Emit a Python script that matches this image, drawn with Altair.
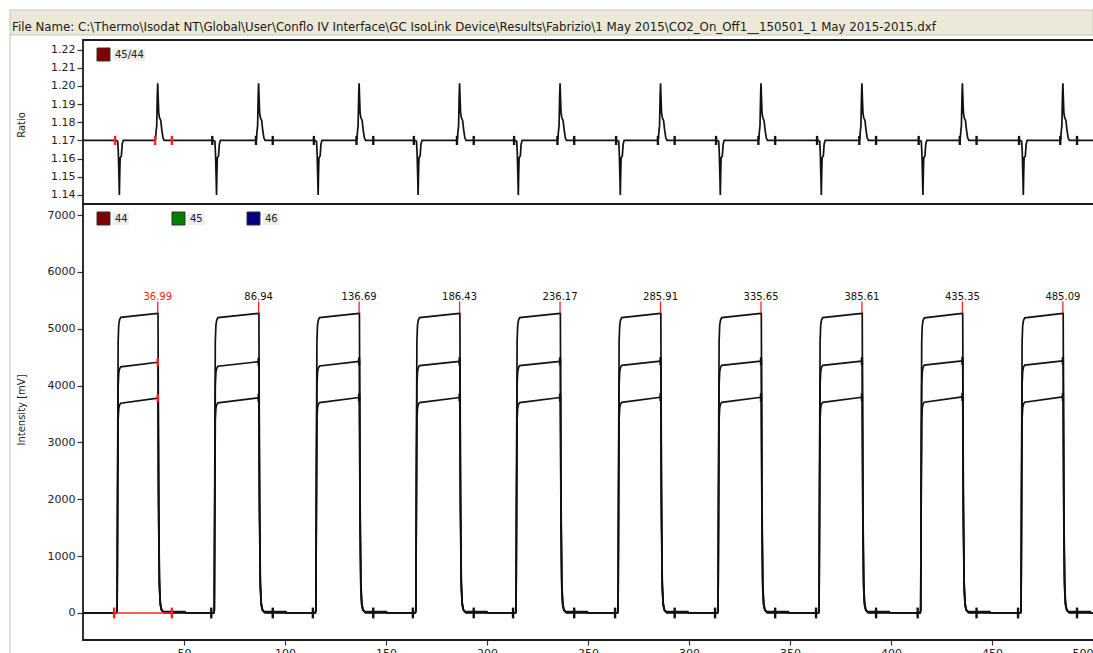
import altair as alt
import pandas as pd

# Peak apex retention times [s] and their printed labels
apex_times = [36.99, 86.94, 136.69, 186.43, 236.17, 285.91, 335.65, 385.61, 435.35, 485.09]
apex_labels = ["36.99", "86.94", "136.69", "186.43", "236.17", "285.91", "335.65", "385.61", "435.35", "485.09"]
# Foot of each rising edge [s]
onset_times = [16.9, 65.0, 115.3, 164.8, 214.4, 264.9, 314.4, 364.4, 414.7, 464.4]

# Plateau intensities [mV] at the start and at the apex of every peak
m44_start = [5200, 5195, 5195, 5195, 5195, 5195, 5195, 5195, 5190, 5190]
m44_end = [5270, 5270, 5270, 5270, 5270, 5270, 5270, 5270, 5270, 5270]
m45_start = [4330, 4340, 4345, 4350, 4350, 4355, 4355, 4355, 4360, 4360]
m45_end = [4410, 4420, 4425, 4425, 4425, 4430, 4430, 4430, 4434, 4434]
m46_start = [3690, 3695, 3700, 3700, 3700, 3705, 3705, 3705, 3708, 3708]
m46_end = [3780, 3785, 3790, 3790, 3790, 3795, 3795, 3795, 3800, 3800]

# Rising edge: time after onset [s] / fraction of plateau
rise_dt = [-0.3, 0.0, 0.3, 0.5, 0.8, 1.2, 1.8]
rise_frac = [0.0, 0.01, 0.60, 0.92, 0.975, 0.992, 1.0]
# Falling edge: time after apex [s] / fraction of plateau
fall_dt = [0.15, 0.45, 0.85, 1.3, 1.9, 2.8]
fall_frac = [1.0, 0.42, 0.11, 0.035, 0.012, 0.004]
# Small residue left on the baseline after each peak [mV]
tail_level = {"44": 0, "45": 12, "46": 24}

# 45/44 ratio trace: dip on the rising edge, spike on the falling edge
ratio_base = 1.17
dip_dt = [-0.5, 0.3, 0.6, 0.9, 1.1, 1.3, 1.5, 2.1, 2.5, 3.0]
dip_val = [1.170, 1.1695, 1.163, 1.150, 1.140, 1.152, 1.1605, 1.1615, 1.168, 1.170]
spike_dt = [-1.5, -1.1, -0.8, -0.5, -0.2, 0.0, 0.25, 0.5, 0.9, 1.5, 2.0, 2.6, 3.2]
spike_val = [1.170, 1.1705, 1.175, 1.178, 1.195, 1.2015, 1.193, 1.185, 1.1825, 1.181, 1.176, 1.1715, 1.170]

FILE_NAME = ("File Name: C:\\Thermo\\Isodat NT\\Global\\User\\Conflo IV Interface\\GC IsoLink Device"
             "\\Results\\Fabrizio\\1 May 2015\\CO2_On_Off1__150501_1 May 2015-2015.dxf")

FONT = "DejaVu Sans"
INK = "#111111"
RED = "#ff2020"

# ---------- build the tables ----------
rows = []
for tr, starts, ends in [("44", m44_start, m44_end), ("45", m45_start, m45_end), ("46", m46_start, m46_end)]:
    rows.append((tr, 0.0, 0.0))
    for i in range(len(apex_times)):
        o, a = onset_times[i], apex_times[i]
        for dt, f in zip(rise_dt, rise_frac):
            rows.append((tr, o + dt, f * starts[i]))
        rows.append((tr, a, ends[i]))
        for dt, f in zip(fall_dt, fall_frac):
            rows.append((tr, a + dt, f * ends[i]))
        rows.append((tr, a + 3.2, tail_level[tr]))
        rows.append((tr, a + 13.5, tail_level[tr]))
        rows.append((tr, a + 14.0, 0.0))
    rows.append((tr, 500.0, 0.0))
intensity = pd.DataFrame(rows, columns=["trace", "t", "v"])

rrows = [(0.0, ratio_base)]
for o, a in zip(onset_times, apex_times):
    rrows += [(o + dt, v) for dt, v in zip(dip_dt, dip_val)]
    rrows += [(a + dt, v) for dt, v in zip(spike_dt, spike_val)]
rrows.append((500.0, ratio_base))
ratio = pd.DataFrame(rrows, columns=["t", "v"])

def mark_color(i):
    return RED if i == 0 else INK

# peak start / end markers on the ratio trace
rmk = []
for i, (o, a) in enumerate(zip(onset_times, apex_times)):
    for t in (o - 1.0, a - 1.3, a + 7.0):
        rmk.append((t, ratio_base - 0.0025, ratio_base + 0.0025, mark_color(i)))
ratio_marks = pd.DataFrame(rmk, columns=["t", "lo", "hi", "c"])

# peak start / end markers on the baseline and apex markers on the plateaus
imk = []
for i, (o, a) in enumerate(zip(onset_times, apex_times)):
    c = mark_color(i)
    imk.append((o - 1.5, -95, 95, c))
    imk.append((a + 7.0, -95, 95, c))
    imk.append((a, m45_end[i] - 70, m45_end[i] + 70, c))
    imk.append((a, m46_end[i] - 70, m46_end[i] + 70, c))
int_marks = pd.DataFrame(imk, columns=["t", "lo", "hi", "c"])

apex_df = pd.DataFrame({
    "t": apex_times,
    "lab": apex_labels,
    "top": m44_end,
    "tick": [5480] * len(apex_times),
    "ly": [5560] * len(apex_times),
    "c": [mark_color(i) for i in range(len(apex_times))],
})

# integration background of the first peak
bg_df = pd.DataFrame({"t": [onset_times[0] - 1.5], "t2": [apex_times[0] + 7.0], "v": [0.0]})

# ---------- scales / axes ----------
W, H = 1010, 600
xs = alt.Scale(domain=[0, 500], nice=False, zero=False)
xax = alt.Axis(values=list(range(50, 501, 50)), format="d", tickSize=5, labelPadding=2,
               domain=False, grid=False)
rs = alt.Scale(domain=[0.895, 1.2253], nice=False, zero=False)
rax = alt.Axis(orient="left", values=[1.14, 1.15, 1.16, 1.17, 1.18, 1.19, 1.20, 1.21, 1.22],
               format=".2f", tickSize=6, labelPadding=2, domain=False, grid=False)
ins = alt.Scale(domain=[-475, 10078], nice=False, zero=False)
iax = alt.Axis(orient="left", values=list(range(0, 7001, 1000)), format="d", tickSize=6,
               labelPadding=2, domain=False, grid=False)

X = lambda f="t": alt.X(f"{f}:Q", scale=xs, axis=xax, title=None)
RY = lambda f="v": alt.Y(f"{f}:Q", scale=rs, axis=rax, title=None)
IY = lambda f="v": alt.Y(f"{f}:Q", scale=ins, axis=iax, title=None)

LW = 1.7
ratio_line = alt.Chart(ratio).mark_line(color=INK, strokeWidth=LW).encode(x=X(), y=RY())
ratio_ticks = alt.Chart(ratio_marks).mark_rule(strokeWidth=2.4).encode(
    x=X(), y=RY("lo"), y2="hi:Q", color=alt.Color("c:N", scale=None))
ratio_group = alt.layer(ratio_line, ratio_ticks)

int_lines = alt.Chart(intensity).mark_line(color=INK, strokeWidth=LW).encode(
    x=X(), y=IY(), detail="trace:N")
int_bg = alt.Chart(bg_df).mark_rule(color=RED, strokeWidth=1.6).encode(x=X(), x2="t2:Q", y=IY())
int_ticks = alt.Chart(int_marks).mark_rule(strokeWidth=2.4).encode(
    x=X(), y=IY("lo"), y2="hi:Q", color=alt.Color("c:N", scale=None))
apex_ticks = alt.Chart(apex_df).mark_rule(color=RED, strokeWidth=1.3).encode(
    x=X(), y=IY("top"), y2="tick:Q")
apex_text = alt.Chart(apex_df).mark_text(font=FONT, fontSize=10, baseline="middle").encode(
    x=X(), y=IY("ly"), text="lab:N", color=alt.Color("c:N", scale=None))
int_group = alt.layer(int_lines, int_bg, int_ticks, apex_ticks, apex_text)

# ---------- frame, header strip, legends (pixel positions) ----------
one = pd.DataFrame({"k": [0]})

def box(x1, x2, y1, y2, **kw):
    return alt.Chart(one).mark_rect(**kw).encode(
        x=alt.value(x1), x2=alt.value(x2), y=alt.value(y1), y2=alt.value(y2))

def txt(x, y, s, **kw):
    return alt.Chart(one).mark_text(text=s, font=FONT, **kw).encode(x=alt.value(x), y=alt.value(y))

SPLIT = 164
background = [
    box(-73, W, -30, -5, fill="#ece9d8", stroke="#c9c5b5", strokeWidth=1),
    txt(-71, -13, FILE_NAME, fontSize=11.8, align="left", baseline="middle", color="#1a1a1a"),
    alt.Chart(one).mark_rule(color="#c0c0c0", strokeWidth=1).encode(
        x=alt.value(-73), y=alt.value(-5), y2=alt.value(H + 13)),
    txt(-61, 85, "Ratio", fontSize=10, angle=270, align="center", baseline="middle", color="#222"),
    txt(-61, 370, "Intensity [mV]", fontSize=10, angle=270, align="center", baseline="middle", color="#222"),
    # legend: ratio panel
    box(14, 27, 8, 21, fill="#800000", stroke="#333", strokeWidth=1),
    box(30, 62, 9, 21, fill="#eeeeee"),
    txt(32, 15, "45/44", fontSize=10, align="left", baseline="middle", color="#222"),
    # legend: intensity panel
    box(14, 27, 172, 185, fill="#800000", stroke="#333", strokeWidth=1),
    box(30, 46, 173, 185, fill="#eeeeee"),
    txt(32, 179, "44", fontSize=10, align="left", baseline="middle", color="#222"),
    box(89, 102, 172, 185, fill="#008000", stroke="#333", strokeWidth=1),
    box(105, 121, 173, 185, fill="#eeeeee"),
    txt(107, 179, "45", fontSize=10, align="left", baseline="middle", color="#222"),
    box(164, 177, 172, 185, fill="#000080", stroke="#333", strokeWidth=1),
    box(180, 196, 173, 185, fill="#eeeeee"),
    txt(182, 179, "46", fontSize=10, align="left", baseline="middle", color="#222"),
]
frames = [
    box(0, W + 4, 0, SPLIT, fill=None, stroke="#1a1a1a", strokeWidth=1.8),
    box(0, W + 4, SPLIT, H, fill=None, stroke="#1a1a1a", strokeWidth=1.8),
]

chart = alt.layer(
    *background, ratio_group, int_group, *frames,
).resolve_scale(y="independent").properties(
    width=W, height=H,
    autosize=alt.AutoSizeParams(type="none"),
    padding={"left": 83, "top": 40, "right": 0, "bottom": 13},
    background="white",
).configure_view(stroke=None).configure_axis(
    labelFont=FONT, labelFontSize=11, labelColor="#222", tickColor="#333", tickWidth=1.2,
)

chart.save("out.html", embed_options={"renderer": "svg", "actions": False})
